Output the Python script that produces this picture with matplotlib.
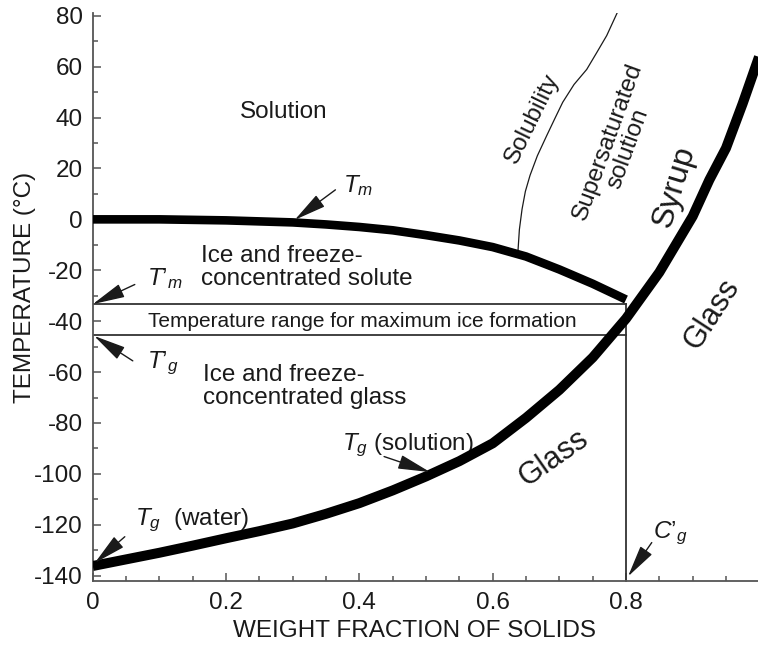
import matplotlib
matplotlib.use("Agg")
import matplotlib.pyplot as plt
from matplotlib.ticker import FixedLocator, MultipleLocator

plt.rcParams['font.family'] = ['Liberation Sans', 'DejaVu Sans']
plt.rcParams['axes.unicode_minus'] = False
plt.rcParams['mathtext.fontset'] = 'custom'
plt.rcParams['mathtext.it'] = 'Liberation Sans:italic'
plt.rcParams['mathtext.rm'] = 'Liberation Sans'

# ---- data ----
tm_x = [0, 0.1, 0.2, 0.3, 0.35, 0.4, 0.45, 0.5, 0.55, 0.6, 0.65, 0.7, 0.75, 0.8]
tm_y = [0, 0, -0.4, -1.2, -2, -3, -4.3, -6.2, -8.3, -10.9, -14.6, -19.7, -25.3, -31.5]

tg_x = [0, 0.05, 0.1, 0.15, 0.2, 0.25, 0.3, 0.35, 0.4, 0.45, 0.5, 0.55, 0.6, 0.65,
        0.7, 0.75, 0.8, 0.85, 0.9, 0.925, 0.95, 0.975, 1.0]
tg_y = [-136.2, -133.6, -131, -128.2, -125.3, -122.5, -119.5, -115.7, -111.5, -106.5,
        -101, -95, -88, -78, -67, -54.3, -39, -20.8, 1.2, 15.5, 28, 45.5, 64.2]

sol_x = [0.638, 0.640, 0.644, 0.649, 0.656, 0.667, 0.681, 0.693, 0.705, 0.722, 0.741, 0.756, 0.771, 0.787]
sol_y = [-12, -4, 4, 11, 17.3, 25, 32.9, 39.5, 46, 53, 58.9, 65.5, 72.2, 81.3]

tm_prime = -33.2
tg_prime = -45.5
cg_prime = 0.8

y_ticks = [80, 60, 40, 20, 0, -20, -40, -60, -80, -100, -120, -140]
x_ticks = [0, 0.2, 0.4, 0.6, 0.8, 1.0]
x_tick_labels = ['0', '0.2', '0.4', '0.6', '0.8', '1']

ink = '#1a1a1a'
axc = '#555555'

fig = plt.figure(figsize=(7.58, 6.45), dpi=100)
ax = fig.add_axes([92.8/758, 64/645, 665.2/758, 568.3/645])
ax.set_xlim(0, 0.998)
ax.set_ylim(-142.1, 81.2)

for s in ['top', 'right']:
    ax.spines[s].set_visible(False)
for s in ['left', 'bottom']:
    ax.spines[s].set_color(axc)
    ax.spines[s].set_linewidth(1.3)

ax.yaxis.set_major_locator(FixedLocator(y_ticks))
ax.yaxis.set_minor_locator(MultipleLocator(10))
ax.xaxis.set_major_locator(FixedLocator(x_ticks))
ax.xaxis.set_minor_locator(MultipleLocator(0.05))
ax.set_xticklabels(x_tick_labels)
ax.set_yticklabels([str(v) for v in y_ticks])
ax.tick_params(which='both', direction='in', color=axc, width=1.1, labelsize=17.5, labelcolor=ink)
ax.tick_params(which='major', length=6)
ax.tick_params(which='minor', length=3.5)
ax.tick_params(axis='y', pad=7)
ax.tick_params(axis='x', pad=8)

ax.set_xlabel('WEIGHT FRACTION OF SOLIDS', fontsize=17.5, color=ink)
ax.set_ylabel('TEMPERATURE (°C)', fontsize=17.5, color=ink)
ax.xaxis.label.set_va('center')
ax.xaxis.set_label_coords(0.484, -0.088)
ax.yaxis.label.set_va('center')
ax.yaxis.set_label_coords(-0.102, 0.517)

# curves
ax.plot(tm_x, tm_y, color='black', lw=6.2, solid_capstyle='butt', solid_joinstyle='round', zorder=4)
ax.plot(tg_x, tg_y, color='black', lw=7.2, solid_capstyle='butt', solid_joinstyle='round', zorder=4)
ax.plot(sol_x, sol_y, color=ink, lw=0.9, zorder=3)

# box lines
ax.plot([0, cg_prime], [tm_prime, tm_prime], color='#333333', lw=1.3, zorder=2)
ax.plot([0, cg_prime], [tg_prime, tg_prime], color='#333333', lw=1.3, zorder=2)
ax.plot([cg_prime, cg_prime], [-142.1, tm_prime], color='#333333', lw=1.3, zorder=2, clip_on=False)

fs = 17.5
ax.text(0.287, 42.0, 'Solution', fontsize=fs, color=ink, ha='center', va='center')
ax.text(0.1616, -18.9, 'Ice and freeze-\nconcentrated solute', fontsize=fs, color=ink,
        ha='left', va='center', linespacing=1.05)
ax.text(0.165, -65.7, 'Ice and freeze-\nconcentrated glass', fontsize=fs, color=ink,
        ha='left', va='center', linespacing=1.05)
ax.text(0.405, -40.1, 'Temperature range for maximum ice formation', fontsize=15, color=ink,
        ha='center', va='center')

# labels with arrows
ap = dict(arrowstyle='-|>,head_length=1.0,head_width=0.22', lw=1.0, color=ink,
          mutation_scale=20, shrinkA=0, shrinkB=0)
ax.text(0.376, 13.4, r'$T_m$', fontsize=fs, color=ink, ha='left', va='center')
ax.annotate('', xy=(0.303, -0.2), xytext=(0.364, 11.6), arrowprops=ap, zorder=6)

ax.text(0.081, -23.3, r"$T’_m$", fontsize=fs, color=ink, ha='left', va='center')
ax.annotate('', xy=(0.0, -33.3), xytext=(0.063, -25.6), arrowprops=ap, annotation_clip=False, zorder=6)

ax.text(0.081, -56.5, r"$T’_g$", fontsize=fs, color=ink, ha='left', va='center')
ax.annotate('', xy=(0.002, -45.8), xytext=(0.060, -55.6), arrowprops=ap, annotation_clip=False, zorder=6)

ax.text(0.374, -88.9, r'$T_g$ (solution)', fontsize=fs, color=ink, ha='left', va='center')
ax.annotate('', xy=(0.506, -99.3), xytext=(0.437, -93.2), arrowprops=ap, zorder=6)

ax.text(0.063, -118.2, r'$T_g$  (water)', fontsize=fs, color=ink, ha='left', va='center')
ax.annotate('', xy=(0.003, -135.0), xytext=(0.048, -124.7), arrowprops=ap, annotation_clip=False, zorder=6)

ax.text(0.840, -123.2, r"$C’_g$", fontsize=fs, color=ink, ha='left', va='center')
ax.annotate('', xy=(0.803, -140.3), xytext=(0.8386, -127.0), arrowprops=ap, annotation_clip=False, zorder=6)

# rotated region labels
ax.text(0.692, -93.9, 'Glass', fontsize=22, color=ink, ha='center', va='center', rotation=35)
ax.text(0.929, -37.2, 'Glass', fontsize=22, color=ink, ha='center', va='center', rotation=57)
ax.text(0.872, 12.8, 'Syrup', fontsize=23, color=ink, ha='center', va='center', rotation=73)
ax.text(0.788, 29.2, 'Supersaturated\nsolution', fontsize=fs, color=ink, ha='center', va='center',
        rotation=70, linespacing=1.0, multialignment='center')
ax.text(0.659, 39.7, 'Solubility', fontsize=fs, color=ink, ha='center', va='center', rotation=64)

fig.savefig('out.png', dpi=100)
